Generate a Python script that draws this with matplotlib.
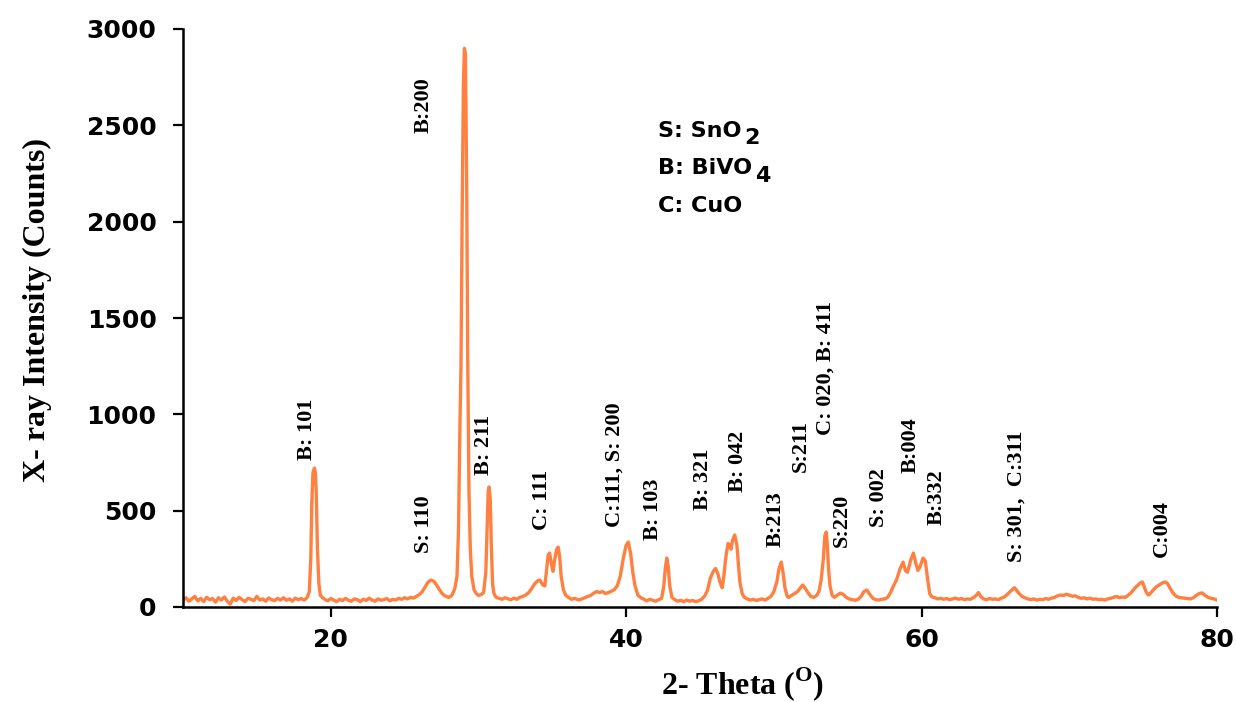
import matplotlib
matplotlib.use("Agg")
import matplotlib.pyplot as plt

# XRD pattern (2-theta in degrees, intensity in counts)
two_theta = [
    10.0, 10.2, 10.4, 10.6, 10.8, 11.0, 11.2, 11.4, 11.6, 11.8, 12.0, 12.2, 12.4, 12.6, 12.8,
    13.0, 13.2, 13.4, 13.6, 13.8, 14.0, 14.2, 14.4, 14.6, 14.8, 15.0, 15.2, 15.4, 15.6, 15.8,
    16.0, 16.2, 16.4, 16.6, 16.8, 17.0, 17.2, 17.4, 17.6, 17.8, 18.0, 18.2, 18.4,
    18.55, 18.65, 18.72, 18.8, 18.9, 18.97, 19.02, 19.1, 19.2, 19.3, 19.45,
    19.6, 19.8, 20.0, 20.2, 20.4, 20.6, 20.8, 21.0, 21.2, 21.4, 21.6, 21.8, 22.0, 22.2, 22.4,
    22.6, 22.8, 23.0, 23.2, 23.4, 23.6, 23.8, 24.0, 24.2, 24.4, 24.6, 24.8, 25.0, 25.2, 25.4,
    25.6, 25.8,
    26.0, 26.2, 26.4, 26.6, 26.8, 27.0, 27.2, 27.4, 27.6, 27.8, 28.0, 28.2, 28.4,
    28.55, 28.65, 28.75, 28.82, 28.9, 28.98, 29.05, 29.12, 29.2, 29.28, 29.36, 29.45, 29.55,
    29.7, 29.85, 30.0, 30.2, 30.35,
    30.5, 30.58, 30.66, 30.72, 30.8, 30.88, 30.96, 31.05, 31.2,
    31.4, 31.6, 31.8, 32.0, 32.2, 32.4, 32.6, 32.8, 33.0, 33.2, 33.4,
    33.6, 33.8, 34.0, 34.15, 34.35, 34.5, 34.62, 34.72, 34.82, 34.95, 35.05, 35.15, 35.3,
    35.4, 35.5, 35.6, 35.75, 35.9, 36.1, 36.3, 36.5, 36.8, 37.0, 37.2, 37.4, 37.6, 37.8,
    38.0, 38.2, 38.4, 38.6, 38.8, 39.0, 39.2, 39.4, 39.6, 39.8, 40.0, 40.15, 40.3, 40.45,
    40.6, 40.8, 41.0, 41.2, 41.4, 41.6, 41.8, 42.0, 42.2, 42.4,
    42.55, 42.65, 42.75, 42.85, 42.95, 43.1, 43.3, 43.5, 43.7, 43.9, 44.1, 44.3, 44.5, 44.7,
    44.9, 45.1, 45.3, 45.5, 45.7, 45.9, 46.05, 46.2, 46.35, 46.5, 46.6, 46.75, 46.9, 47.0,
    47.1, 47.2, 47.35, 47.5, 47.6, 47.7, 47.85, 48.0, 48.2, 48.4, 48.6, 48.8, 49.0, 49.2,
    49.4, 49.6, 49.8, 50.0, 50.2, 50.35, 50.5, 50.62, 50.75, 50.9, 51.0, 51.2, 51.4, 51.6,
    51.8, 51.95, 52.1, 52.3, 52.5, 52.7, 52.9, 53.05, 53.2, 53.35, 53.45, 53.55, 53.62,
    53.7, 53.8, 53.95, 54.1, 54.3, 54.5, 54.7, 54.9, 55.1, 55.3, 55.5, 55.7, 55.9, 56.1,
    56.3, 56.5, 56.7, 56.9, 57.1, 57.3, 57.5, 57.7, 57.9, 58.1, 58.3, 58.55, 58.75, 58.9,
    59.05, 59.25, 59.45, 59.6, 59.75, 59.9, 60.1, 60.25, 60.4, 60.55, 60.7,
    60.9, 61.1, 61.3, 61.5, 61.7, 61.9, 62.1, 62.3, 62.5, 62.7, 62.9, 63.1, 63.3, 63.5,
    63.7, 63.85, 64.0, 64.2, 64.4, 64.6, 64.8, 65.0, 65.2, 65.4, 65.6, 65.8, 66.0, 66.2,
    66.3, 66.45, 66.6, 66.8, 67.0, 67.2, 67.4, 67.6, 67.8, 68.0, 68.2, 68.4, 68.6, 68.8,
    69.0, 69.2, 69.4, 69.6, 69.8, 70.0, 70.2, 70.4, 70.6, 70.8, 71.0, 71.2, 71.4, 71.6,
    71.8, 72.0, 72.2, 72.4, 72.6, 72.8, 73.0, 73.2, 73.4, 73.6, 73.8, 74.0, 74.2, 74.4,
    74.6, 74.8, 74.95, 75.05, 75.2, 75.35, 75.5, 75.7, 75.9, 76.1, 76.3, 76.5, 76.65,
    76.8, 77.0, 77.2, 77.4, 77.6, 77.8, 78.0, 78.2, 78.4, 78.6, 78.8, 79.0, 79.2, 79.4,
    79.6, 79.8, 80.0,
]
counts = [
    35, 48, 30, 42, 55, 32, 45, 28, 50, 38, 44, 25, 48, 36, 52,
    30, 15, 46, 34, 50, 38, 28, 45, 40, 33, 55, 36, 42, 30, 47,
    38, 33, 45, 36, 48, 35, 42, 30, 46, 38, 44, 36, 48,
    80, 250, 540, 700, 721, 690, 600, 300, 120, 60, 48,
    40, 32, 44, 36, 28, 40, 33, 45, 35, 30, 42, 38, 28, 40, 34,
    46, 36, 30, 42, 35, 38, 44, 32, 40, 36, 45, 40, 48, 42, 50,
    46, 55,
    65, 80, 105, 130, 140, 132, 110, 85, 65, 55, 50, 60, 95,
    160, 400, 950, 1250, 2050, 2700, 2900, 2870, 2250, 1250, 600, 300, 160,
    90, 70, 60, 65, 75,
    180, 400, 600, 623, 560, 300, 120, 70, 50,
    45, 40, 48, 42, 38, 46, 40, 50, 55, 62, 75,
    95, 120, 135, 140, 115, 110, 200, 270, 280, 220, 185, 240, 300,
    311, 260, 160, 90, 62, 50, 40, 45, 36, 42, 48, 55, 60, 72,
    80, 75, 80, 70, 75, 82, 90, 110, 160, 250, 320, 337, 280, 180,
    110, 60, 48, 40, 32, 40, 35, 30, 38, 45,
    110, 200, 254, 210, 110, 50, 38, 30, 35, 28, 36, 30, 34, 28,
    32, 40, 55, 85, 150, 185, 200, 175, 130, 100, 150, 260, 330, 320,
    300, 345, 374, 320, 220, 130, 70, 50, 42, 36, 40, 34, 38, 42,
    36, 45, 55, 80, 130, 200, 233, 180, 100, 55, 50, 60, 70, 80,
    100, 114, 100, 75, 55, 50, 60, 80, 140, 250, 370, 389, 320,
    200, 110, 60, 50, 62, 72, 65, 50, 42, 38, 35, 40, 55, 80,
    88, 65, 45, 38, 36, 40, 42, 50, 75, 110, 140, 200, 233, 190,
    180, 240, 280, 230, 190, 210, 254, 240, 150, 70, 52,
    48, 42, 45, 40, 44, 38, 42, 46, 40, 44, 38, 42, 40, 48,
    60, 75, 55, 42, 38, 44, 40, 42, 38, 46, 52, 65, 80, 95,
    100, 85, 70, 55, 48, 42, 38, 42, 36, 40, 38, 44, 40, 46,
    50, 58, 62, 60, 66, 62, 56, 58, 50, 45, 48, 42, 46, 40,
    42, 38, 40, 36, 42, 45, 50, 55, 48, 52, 50, 62, 75, 95,
    110, 125, 130, 110, 78, 62, 72, 90, 105, 115, 125, 130, 122,
    100, 75, 58, 50, 48, 46, 44, 42, 48, 60, 70, 73, 60, 50,
    45, 42, 36,
]

# peak labels: text, 2-theta of label, intensity at label bottom
peak_labels = [
    "B: 101", "B:200", "S: 110", "B: 211", "C: 111", "C:111, S: 200", "B: 103",
    "B: 321", "B: 042", "B:213", "S:211", "C: 020, B: 411", "S:220", "S: 002",
    "B:004", "B:332", "S: 301,  C:311", "C:004",
]
label_x = [18.4, 26.3, 26.3, 30.4, 34.3, 39.25, 41.8, 45.2, 47.55, 50.1, 51.8,
           53.5, 54.6, 57.1, 59.25, 61.0, 66.4, 76.3]
label_y = [763, 2460, 280, 685, 400, 415, 348, 503, 597, 311, 700, 892, 311,
           415, 695, 425, 233, 259]

phases = [("S: SnO", "2"), ("B: BiVO", "4"), ("C: CuO", "")]

x_ticks = [20, 40, 60, 80]
y_ticks = [0, 500, 1000, 1500, 2000, 2500, 3000]

SERIF = "Liberation Serif"
SANS = "DejaVu Sans"


def main():
    plt.rcParams["mathtext.fontset"] = "custom"
    plt.rcParams["mathtext.rm"] = SERIF
    plt.rcParams["mathtext.bf"] = SERIF + ":bold"

    W, H = 1236, 702
    fig = plt.figure(figsize=(W / 100, H / 100), dpi=100)
    ax = fig.add_axes([183 / W, 1 - 607 / H, (1217 - 183) / W, (607 - 29) / H])

    ax.plot(two_theta, counts, color="#ff8040", lw=2.4)

    ax.set_xlim(10, 80)
    ax.set_ylim(0, 3000)
    ax.set_xticks(x_ticks)
    ax.set_yticks(y_ticks)
    for side in ("top", "right"):
        ax.spines[side].set_visible(False)
    for side in ("left", "bottom"):
        ax.spines[side].set_linewidth(1.8)
    ax.tick_params(direction="out", length=7, width=1.6, colors="black")
    ax.tick_params(axis="y", pad=12)
    ax.tick_params(axis="x", pad=8)
    for lab in ax.get_xticklabels() + ax.get_yticklabels():
        lab.set_fontfamily(SANS)
        lab.set_fontweight("bold")
        lab.set_fontsize(18)

    ax.set_ylabel("X- ray Intensity (Counts)", family=SERIF, weight="bold", fontsize=23)
    ax.yaxis.set_label_coords(-0.127, 0.514)
    ax.set_xlabel(r"2- Theta ($^{\mathbf{O}}$)", family=SERIF, weight="bold", fontsize=23)
    ax.xaxis.set_label_coords(0.5416, -0.1)

    for text, x, y in zip(peak_labels, label_x, label_y):
        ax.text(x, y, text, rotation=90, ha="center", va="bottom",
                family=SERIF, weight="bold", fontsize=16)

    for i, (name, sub) in enumerate(phases):
        t = fig.text(658 / W, 1 - (137 + 37.5 * i) / H, name, family=SANS,
                     weight="bold", fontsize=16, va="baseline", ha="left")
        if sub:
            ax.annotate(sub, xy=(1, 0), xycoords=t, xytext=(2, -2.5),
                        textcoords="offset points", family=SANS, weight="bold",
                        fontsize=16, va="baseline", ha="left")

    fig.savefig("out.png", dpi=100)


if __name__ == "__main__":
    main()
